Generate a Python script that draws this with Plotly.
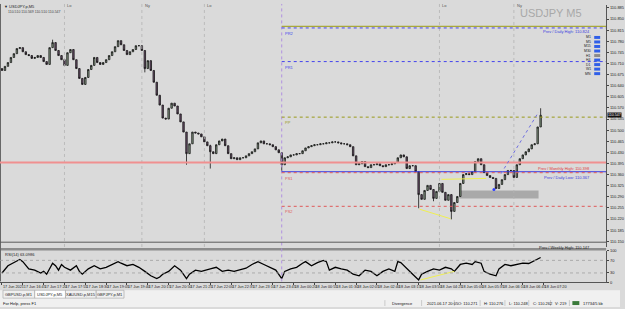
import plotly.graph_objects as go

W, H = 625, 309

# ---------------- data (M5 bars, index 0 = 17 Jun 16:10, bar 94 = 18 Jun 00:00) -------------
closes = [110.688, 110.701, 110.713, 110.729, 110.741, 110.757, 110.760, 110.747, 110.738, 110.735,
          110.726, 110.729, 110.735, 110.729, 110.716, 110.707, 110.760, 110.776, 110.751, 110.735,
          110.722, 110.704, 110.744, 110.754, 110.722, 110.694, 110.663, 110.644, 110.666, 110.691,
          110.704, 110.729, 110.713, 110.707, 110.713, 110.722, 110.735, 110.747, 110.763, 110.782,
          110.769, 110.751, 110.738, 110.747, 110.754, 110.766, 110.766, 110.751, 110.694, 110.719,
          110.688, 110.651, 110.610, 110.579, 110.538, 110.535, 110.569, 110.585, 110.576, 110.551,
          110.526, 110.494, 110.426, 110.457, 110.494, 110.491, 110.488, 110.479, 110.463, 110.451,
          110.432, 110.426, 110.454, 110.466, 110.472, 110.451, 110.426, 110.410, 110.413, 110.407,
          110.413, 110.413, 110.419, 110.426, 110.432, 110.441, 110.460, 110.466, 110.457, 110.457,
          110.454, 110.448, 110.438, 110.429, 110.391, 110.413, 110.416, 110.422, 110.422, 110.426,
          110.426, 110.435, 110.444, 110.448, 110.451, 110.454, 110.454, 110.457, 110.457, 110.460,
          110.460, 110.463, 110.463, 110.460, 110.457, 110.457, 110.454, 110.448, 110.419, 110.391,
          110.394, 110.401, 110.385, 110.382, 110.391, 110.391, 110.394, 110.388, 110.385, 110.391,
          110.391, 110.394, 110.398, 110.413, 110.422, 110.416, 110.379, 110.388, 110.388, 110.369,
          110.297, 110.282, 110.310, 110.326, 110.313, 110.285, 110.307, 110.332, 110.304, 110.279,
          110.297, 110.244, 110.272, 110.291, 110.332, 110.360, 110.363, 110.360, 110.369, 110.401,
          110.410, 110.391, 110.366, 110.357, 110.351, 110.348, 110.316, 110.329, 110.344, 110.360,
          110.373, 110.373, 110.351, 110.391, 110.410, 110.422, 110.432, 110.441, 110.454, 110.457,
          110.510, 110.547]
first_open = 110.694
wick_bars = [17, 48, 62, 70, 94, 140, 145, 151, 181]
wick_lows = [110.776, 110.682, 110.391, 110.379, 110.369, 110.254, 110.276, 110.219, 110.510]
wick_highs = [110.785, 110.719, 110.457, 110.454, 110.429, 110.369, 110.313, 110.297, 110.569]

rsi_bars = [0, 2, 5, 6, 7, 9, 11, 13, 14, 15, 17, 18, 19, 20, 21, 23, 25, 26, 27, 29, 31, 33, 35, 37,
            39, 40, 42, 44, 46, 48, 50, 52, 53, 54, 56, 58, 60, 62, 63, 65, 67, 70, 72, 74, 76, 78,
            80, 82, 84, 86, 88, 90, 92, 94, 95, 97, 99, 101, 102, 104, 106, 108, 109, 110, 112, 114,
            116, 118, 120, 121, 122, 124, 126, 128, 130, 132, 133, 134, 136, 137, 138, 140, 141, 143,
            145, 147, 149, 151, 152, 154, 156, 158, 159, 161, 162, 164, 166, 167, 169, 171, 173, 175,
            177, 179, 181]
rsi_vals = [30, 53, 68, 73, 66, 43, 39, 30, 35, 26, 61, 53, 39, 57, 48, 39, 53, 35, 26, 43, 53, 43,
            48, 57, 66, 61, 53, 57, 48, 35, 21, 12, 17, 26, 35, 53, 39, 12, 26, 39, 35, 43, 48, 35,
            39, 35, 39, 45, 57, 66, 57, 48, 39, 12, 35, 43, 48, 61, 66, 53, 63, 70, 66, 39, 48, 43,
            39, 26, 21, 30, 39, 35, 21, 35, 43, 35, 66, 63, 43, 35, 26, 8, 26, 35, 43, 39, 48, 43,
            35, 57, 61, 57, 66, 61, 35, 26, 21, 43, 57, 53, 57, 61, 60, 70, 79]

tick_bars = [0, 7, 14, 21, 28, 35, 42, 49, 56, 63, 70, 77, 84, 91, 98, 105, 112, 119, 126, 133,
             140, 147, 154, 161, 168, 175, 182]
tick_text = ["17 Jun 2021", "17 Jun 16:45", "17 Jun 17:20", "17 Jun 17:55", "17 Jun 18:30",
             "17 Jun 19:05", "17 Jun 19:40", "17 Jun 20:15", "17 Jun 20:50", "17 Jun 21:25",
             "17 Jun 22:00", "17 Jun 22:35", "17 Jun 23:10", "17 Jun 23:45", "18 Jun 00:20",
             "18 Jun 00:55", "18 Jun 01:30", "18 Jun 02:05", "18 Jun 02:40", "18 Jun 03:15",
             "18 Jun 03:50", "18 Jun 04:25", "18 Jun 05:00", "18 Jun 05:35", "18 Jun 06:10",
             "18 Jun 06:45", "18 Jun 07:20"]

price_ticks = [110.885, 110.850, 110.815, 110.780, 110.745, 110.710, 110.675, 110.640, 110.605,
               110.570, 110.535, 110.500, 110.465, 110.430, 110.395, 110.360, 110.325, 110.290,
               110.255, 110.220, 110.185, 110.150]

day_start_bar = 94
session_bars = [21, 47, 68, 147, 172]
session_names = ["Lo", "Ny", "Lo", "Lo", "Ny"]

pivot_names = ["PR2", "PR1", "PP", "PS1", "PS2"]
pivot_levels = [110.822, 110.716, 110.541, 110.366, 110.260]
pivot_colors = ["#4444ee", "#4444ee", "#9a9a1a", "#e05a5a", "#e05a5a"]

prev_daily_high = 110.827
prev_daily_low = 110.369
prev_monthly_high = 110.398
prev_weekly = 110.147

tf_names = ["M1", "M5", "M15", "M30", "H1", "H4", "D1", "W1", "MN"]

# ---------------- helpers -------------
XMIN, XMAX = -0.67, 203.0
P_TOP, P_BOT = 110.8944, 110.1319


def px(x):
    return x / W


def py(y):
    return 1 - y / H


opens = [first_open] + closes[:-1]
highs = [max(o, c) for o, c in zip(opens, closes)]
lows = [min(o, c) for o, c in zip(opens, closes)]
for b, lo, hi in zip(wick_bars, wick_lows, wick_highs):
    lows[b] = min(lows[b], lo)
    highs[b] = max(highs[b], hi)
bars = list(range(len(closes)))

fig = go.Figure()
fig.add_trace(go.Candlestick(
    x=bars, open=opens, high=highs, low=lows, close=closes,
    increasing=dict(line=dict(color="#151515", width=0.8), fillcolor="#8ea58c"),
    decreasing=dict(line=dict(color="#151515", width=0.8), fillcolor="#6e4f6e"),
    whiskerwidth=0, hoverinfo="skip", showlegend=False, xaxis="x", yaxis="y"))

fig.add_trace(go.Scatter(x=rsi_bars, y=rsi_vals, mode="lines",
                         line=dict(color="#000000", width=1.3), showlegend=False,
                         hoverinfo="skip", xaxis="x2", yaxis="y2"))

shapes = []
ann = []

# background areas
shapes.append(dict(type="rect", xref="paper", yref="paper", x0=0, x1=1, y0=py(309), y1=py(292),
                   fillcolor="#f0f0f0", line=dict(width=0), layer="below"))
# tabs
tabs = [("GBPUSD.p,M1", 3, 35), ("USDJPY.p,M5", 35, 66), ("XAUUSD.p,M15", 66, 97), ("GBPJPY.p,M1", 97, 125)]
for i, (t, a, b) in enumerate(tabs):
    shapes.append(dict(type="rect", xref="paper", yref="paper", x0=px(a), x1=px(b), y0=py(300), y1=py(292),
                       fillcolor="#ffffff" if i == 1 else "#f0f0f0",
                       line=dict(color="#a0a0a0", width=0.6)))
    ann.append(dict(x=px((a + b) / 2), y=py(296), xref="paper", yref="paper", text=t, showarrow=False,
                    font=dict(size=4, color="#222222"), xanchor="center", yanchor="middle"))
# status bar
status = [("For Help, press F1", 1), ("Divergence", 393), ("2021.06.17 20:05", 428), ("O: 110.271", 460),
          ("H: 110.276", 486), ("L: 110.248", 511), ("C: 110.262", 535), ("V: 219", 557),
          ("17734/5 kb", 586)]
for t, x in status:
    ann.append(dict(x=px(x), y=py(305), xref="paper", yref="paper", text=t, showarrow=False,
                    font=dict(size=4, color="#111111"), xanchor="left", yanchor="middle"))
for x in [388, 425, 458, 484, 509, 533, 555, 574]:
    shapes.append(dict(type="line", xref="paper", yref="paper", x0=px(x), x1=px(x), y0=py(308), y1=py(302),
                       line=dict(color="#b0b0b0", width=0.6)))
shapes.append(dict(type="rect", xref="paper", yref="paper", x0=px(577), x1=px(584), y0=py(307), y1=py(303),
                   fillcolor="#3a7a3a", line=dict(width=0)))

# panel separator
shapes.append(dict(type="rect", xref="paper", yref="paper", x0=0, x1=px(611), y0=py(251.5), y1=py(249),
                   fillcolor="#8c8c8c", line=dict(width=0)))
# left border
shapes.append(dict(type="line", xref="paper", yref="paper", x0=px(0.5), x1=px(0.5), y0=py(283), y1=py(1),
                   line=dict(color="#666666", width=1)))

# session lines
for b, n in zip(session_bars, session_names):
    shapes.append(dict(type="line", xref="x", yref="paper", x0=b, x1=b, y0=py(248), y1=py(1),
                       line=dict(color="#b4b4b4", width=0.8, dash="dot")))
    ann.append(dict(x=b, y=py(3), xref="x", yref="paper", text=n, showarrow=False,
                    font=dict(size=4, color="#555555"), xanchor="left", yanchor="middle", xshift=1))
# day separator
shapes.append(dict(type="line", xref="x", yref="paper", x0=day_start_bar, x1=day_start_bar, y0=py(283), y1=py(1),
                   line=dict(color="#b090e0", width=1, dash="dot")))

# previous period lines
shapes.append(dict(type="line", xref="x", yref="y", x0=day_start_bar, x1=XMAX, y0=prev_daily_high,
                   y1=prev_daily_high, line=dict(color="#a8a83a", width=1.2)))
shapes.append(dict(type="line", xref="x", yref="y", x0=XMIN, x1=XMAX, y0=prev_monthly_high,
                   y1=prev_monthly_high, line=dict(color="#f09090", width=2)))
shapes.append(dict(type="line", xref="x", yref="y", x0=day_start_bar, x1=XMAX, y0=prev_daily_low,
                   y1=prev_daily_low, line=dict(color="#3a3ae0", width=1)))
shapes.append(dict(type="line", xref="x", yref="y", x0=XMIN, x1=XMAX, y0=prev_weekly,
                   y1=prev_weekly, line=dict(color="#5a5a5a", width=1)))
for n, lv, c in zip(pivot_names, pivot_levels, pivot_colors):
    shapes.append(dict(type="line", xref="x", yref="y", x0=day_start_bar, x1=XMAX, y0=lv, y1=lv,
                       line=dict(color=c, width=1, dash="dot")))
    ann.append(dict(x=day_start_bar, y=lv, xref="x", yref="y", text=n, showarrow=False,
                    font=dict(size=4, color=c), xanchor="left", yanchor="top", xshift=1, yshift=-1))

line_labels = [("Prev / Daily High: 110.824", prev_daily_high, "#3a3ae0"),
               ("Prev / Monthly High: 110.398", prev_monthly_high, "#e04040"),
               ("Prev / Daily Low: 110.367", prev_daily_low, "#3a3ae0"),
               ("Prev / Weekly High: 110.147", prev_weekly, "#222222")]
for t, lv, c in line_labels:
    ann.append(dict(x=px(597), y=lv, xref="paper", yref="y", text=t, showarrow=False,
                    font=dict(size=4, color=c), xanchor="right", yanchor="top", yshift=-1))

# zone rectangle
shapes.append(dict(type="rect", xref="x", yref="y", x0=153.7, x1=180.3, y0=110.285, y1=110.310,
                   fillcolor="#a9a9a9", line=dict(width=0), layer="below"))
# divergence lines
shapes.append(dict(type="line", xref="x", yref="y", x0=140.3, x1=150.7, y0=110.251, y1=110.221,
                   line=dict(color="#f0f050", width=1)))
shapes.append(dict(type="line", xref="x", yref="y", x0=147.7, x1=162.7, y0=110.345, y1=110.348,
                   line=dict(color="#f0f050", width=1)))
shapes.append(dict(type="line", xref="x2", yref="y2", x0=140.7, x1=152, y0=8, y1=35,
                   line=dict(color="#f0f050", width=1)))
# trend line
shapes.append(dict(type="line", xref="x", yref="y", x0=167.7, x1=180.3, y0=110.363, y1=110.557,
                   line=dict(color="#7070e0", width=1, dash="dot")))
fig.add_trace(go.Scatter(x=[165.3], y=[110.313], mode="markers", marker=dict(color="#3040ff", size=3),
                         showlegend=False, hoverinfo="skip", xaxis="x", yaxis="y"))

# RSI levels
for lv in [70, 30]:
    shapes.append(dict(type="line", xref="x2", yref="y2", x0=XMIN, x1=XMAX, y0=lv, y1=lv,
                       line=dict(color="#a0a0a0", width=0.8, dash="dot")))
ann.append(dict(x=px(3), y=py(255.5), xref="paper", yref="paper", text="RSI(14) 63.0986", showarrow=False,
                font=dict(size=4, color="#222222"), xanchor="left", yanchor="middle"))

# current price tag
ann.append(dict(x=px(612), y=closes[-1], xref="paper", yref="y", text="110.547", showarrow=False,
                font=dict(size=3.6, color="#ffffff"), bgcolor="#111111", xanchor="left", yanchor="middle",
                borderpad=0))

# top-left info
ann.append(dict(x=px(2), y=py(4), xref="paper", yref="paper", text="▼ USDJPY.p,M5", showarrow=False,
                font=dict(size=4, color="#222222"), xanchor="left", yanchor="middle"))
ann.append(dict(x=px(6), y=py(9), xref="paper", yref="paper",
                text="110.510 110.569 110.510 110.547", showarrow=False,
                font=dict(size=3.5, color="#444444"), xanchor="left", yanchor="middle"))
# watermark
ann.append(dict(x=px(589), y=py(10), xref="paper", yref="paper", text="USDJPY M5", showarrow=False,
                font=dict(size=11, color="#a8a8a8", family="Liberation Sans"), xanchor="right",
                yanchor="middle"))
# timeframe buttons
for i, t in enumerate(tf_names):
    yy = 35 + i * 4.6
    ann.append(dict(x=px(598), y=py(yy), xref="paper", yref="paper", text=t, showarrow=False,
                    font=dict(size=3.5, color="#222222"), xanchor="right", yanchor="middle"))
    shapes.append(dict(type="rect", xref="paper", yref="paper", x0=px(599), x1=px(605),
                       y0=py(yy + 1.5), y1=py(yy - 1.5),
                       fillcolor="#8a8a8a" if i == 4 else "#2f5fe8", line=dict(width=0)))

fig.update_layout(
    width=W, height=H, margin=dict(l=0, r=0, t=0, b=0),
    paper_bgcolor="#dadada", plot_bgcolor="#dadada",
    font=dict(family="Liberation Sans", size=4, color="#222222"),
    shapes=shapes, annotations=ann, showlegend=False,
    xaxis=dict(domain=[0, px(611)], range=[XMIN, XMAX], showticklabels=False, showgrid=False,
               zeroline=False, rangeslider=dict(visible=False), anchor="y"),
    yaxis=dict(domain=[py(248), py(2)], range=[P_BOT, P_TOP], side="right", anchor="x",
               tickvals=price_ticks, ticktext=[f"{v:.3f}" for v in price_ticks],
               ticks="outside", ticklen=2, tickcolor="#444444", showgrid=False, zeroline=False,
               showline=True, linecolor="#555555", linewidth=1, tickfont=dict(size=4)),
    xaxis2=dict(domain=[0, px(611)], range=[XMIN, XMAX], anchor="y2", matches="x",
                tickvals=tick_bars, ticktext=tick_text, ticks="outside", ticklen=2, tickangle=0,
                tickcolor="#444444", ticklabelposition="outside right", showgrid=False,
                zeroline=False, showline=True, linecolor="#555555", linewidth=1,
                tickfont=dict(size=3.8)),
    yaxis2=dict(domain=[py(284), py(252)], range=[0, 100], side="right", anchor="x2",
                tickvals=[100, 70, 30, 0], ticktext=["100", "70", "30", "0"], ticks="outside",
                ticklen=2, tickcolor="#444444", showgrid=False, zeroline=False, showline=True,
                linecolor="#555555", linewidth=1, tickfont=dict(size=4)),
)

fig.write_html("out.html")
